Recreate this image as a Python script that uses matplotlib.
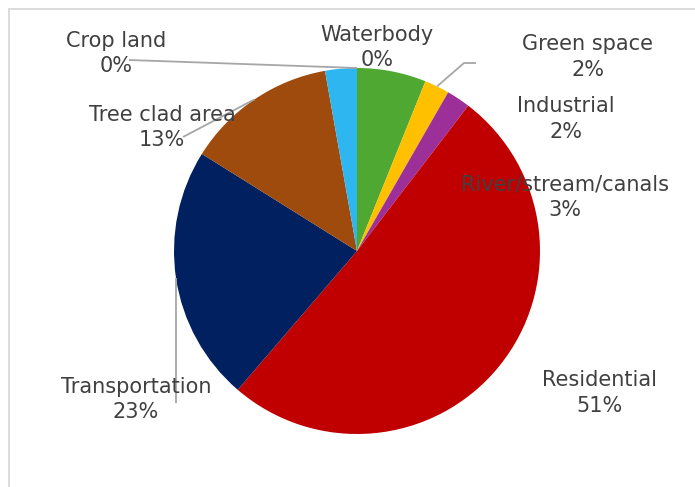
import matplotlib
matplotlib.use("Agg")
import matplotlib.pyplot as plt
import numpy as np

# Land-use shares, clockwise from 12 o'clock
categories = ["Waterbody", "", "Green space", "Industrial", "Residential",
              "Transportation", "Tree clad area", "River/stream/canals", "Crop land"]
shares = [0.0, 6.1, 2.2, 2.1, 50.9, 22.6, 13.3, 2.8, 0.0]
colors = ["#2db6ef", "#4fa832", "#ffc000", "#9c2f98", "#c00000",
          "#002060", "#9e4b0d", "#2db6ef", "#70ad47"]

# Canvas in pixel units (y measured downward from the top edge)
W, H = 695, 487
CX, CY, R = 357, 251, 183

TEXT = "#404040"
LEADER = "#a6a6a6"
FONT = "DejaVu Sans"
FSIZE = 15
LINE_GAP = 25.5

# Label anchors: (centre x, baseline of the first line)
label_pos = {
    "Waterbody": (377, 41),
    "Green space": (588, 50),
    "Industrial": (566, 112),
    "River/stream/canals": (565, 190),
    "Residential": (600, 386),
    "Transportation": (136, 393),
    "Tree clad area": (162, 121),
    "Crop land": (116, 47),
}
# Leader-line knots running from the label towards the slice edge
leader_knots = {
    "Crop land": [(129, 60)],
    "Tree clad area": [(183, 137)],
    "Green space": [(476, 63), (464, 63)],
}
drop_leaders = {"Transportation": 403}


def py(y):
    return H - y


fig = plt.figure(figsize=(W / 100, H / 100), dpi=100)
ax = fig.add_axes([0, 0, 1, 1])

wedges, _ = ax.pie(shares, colors=colors, startangle=90, counterclock=False,
                   center=(CX, py(CY)), radius=R,
                   wedgeprops=dict(linewidth=0))
ax.set_aspect("auto")
ax.set_xlim(0, W)
ax.set_ylim(0, H)
ax.axis("off")

# Chart-area frame (top and left edges fall inside the canvas)
ax.plot([9, W + 5], [py(9), py(9)], color="#d9d9d9", lw=1.3, zorder=0)
ax.plot([9, 9], [py(9), py(H + 5)], color="#d9d9d9", lw=1.3, zorder=0)

total = sum(shares)
for name, val, w in zip(categories, shares, wedges):
    if name not in label_pos:
        continue
    lx, ly = label_pos[name]
    pct = f"{round(val / total * 100)}%"
    ax.text(lx, py(ly), name, ha="center", va="baseline", color=TEXT,
            fontsize=FSIZE, family=FONT, zorder=5)
    ax.text(lx, py(ly + LINE_GAP), pct, ha="center", va="baseline", color=TEXT,
            fontsize=FSIZE, family=FONT, zorder=5)

    mid = np.deg2rad((w.theta1 + w.theta2) / 2)
    ex, ey = CX + R * np.cos(mid), CY - R * np.sin(mid)
    pts = None
    if name in leader_knots:
        pts = leader_knots[name] + [(ex, ey)]
    elif name in drop_leaders:
        pts = [(ex, drop_leaders[name]), (ex, ey)]
    if pts:
        xs = [p[0] for p in pts]
        ys = [py(p[1]) for p in pts]
        ax.plot(xs, ys, color=LEADER, lw=1.3, zorder=4, solid_capstyle="butt")

fig.savefig("out.png", dpi=100)
